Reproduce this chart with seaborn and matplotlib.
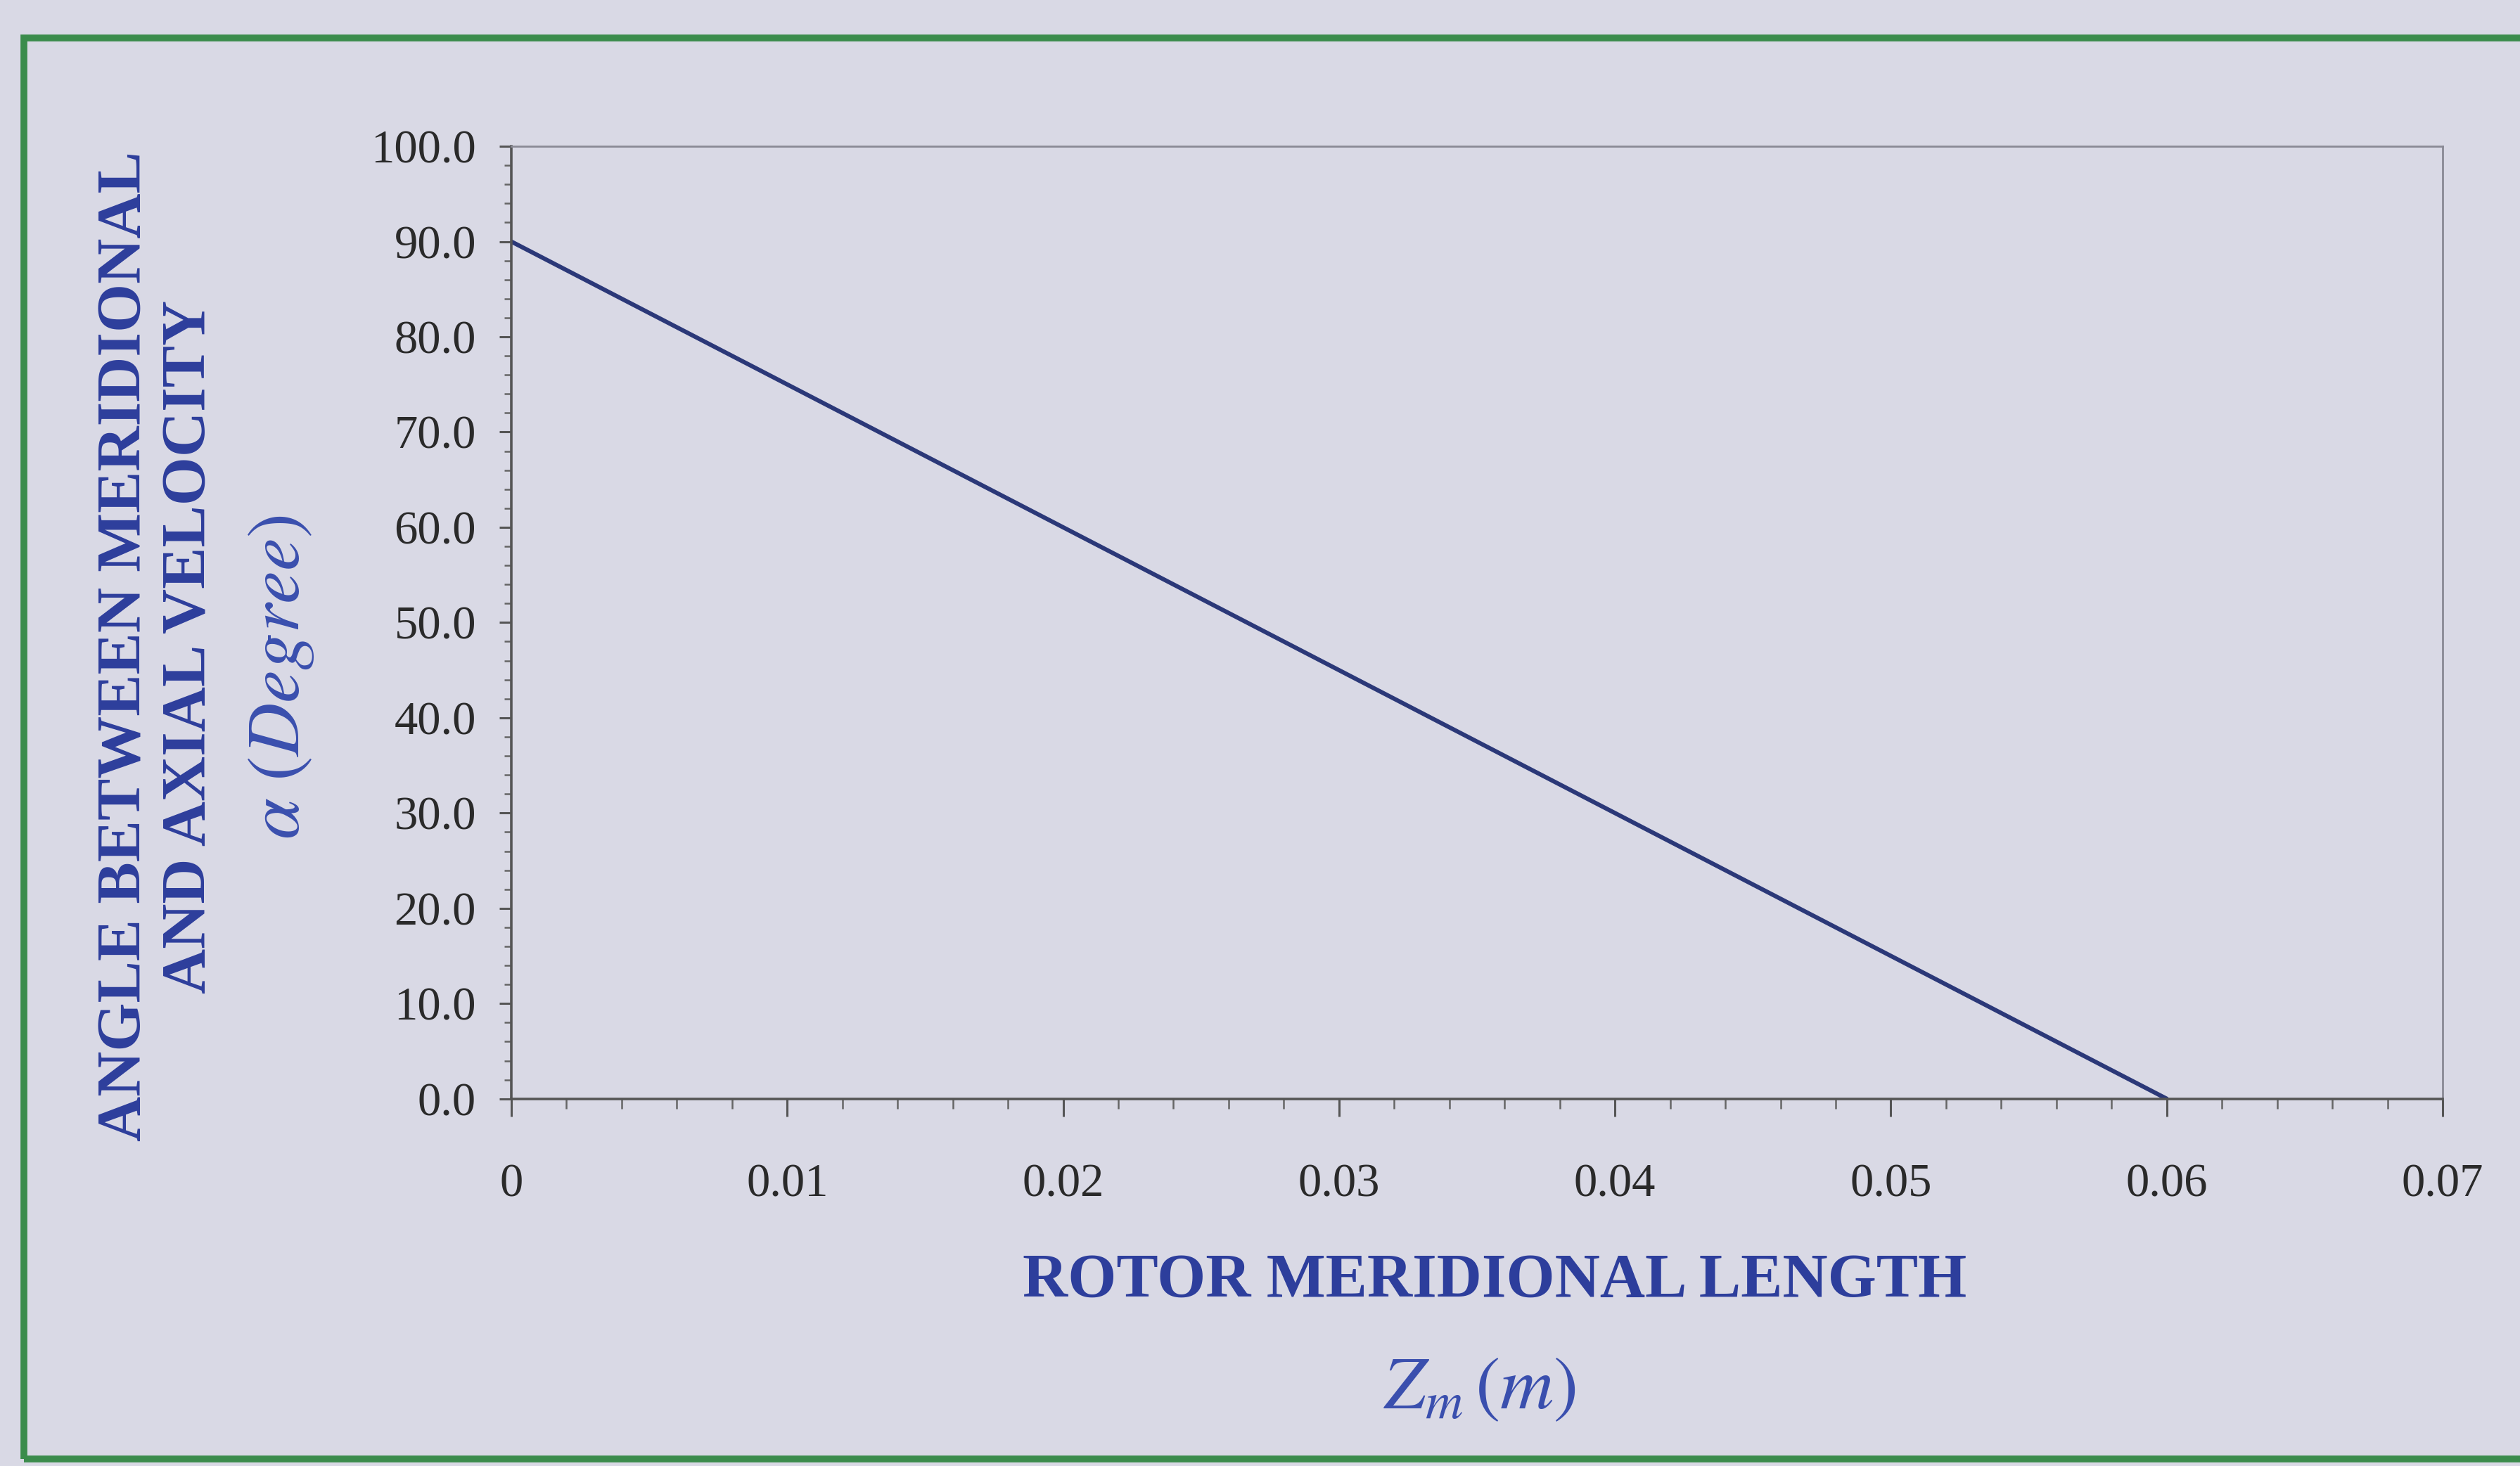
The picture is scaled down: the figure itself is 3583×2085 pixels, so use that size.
import numpy as np
import pandas as pd
import matplotlib
matplotlib.use("Agg")
import matplotlib.pyplot as plt
import seaborn as sns
from matplotlib.ticker import MultipleLocator, FixedLocator
from matplotlib.patches import Rectangle

# data
zm = [0.0, 0.01, 0.02, 0.03, 0.04, 0.05, 0.06]
alpha = [90.0, 75.0, 60.0, 45.0, 30.0, 15.0, 0.0]
y_ticks = [0, 10, 20, 30, 40, 50, 60, 70, 80, 90, 100]
x_ticks = [0, 0.01, 0.02, 0.03, 0.04, 0.05, 0.06, 0.07]
x_tick_labels = ["0", "0.01", "0.02", "0.03", "0.04", "0.05", "0.06", "0.07"]

df = pd.DataFrame({"Zm": zm, "alpha": alpha})

bg = "#d9d9e5"
blue = "#2d3e9c"
sns.set_style("white", {"axes.facecolor": bg, "figure.facecolor": bg})
plt.rcParams["font.family"] = ["Liberation Serif", "DejaVu Serif"]
plt.rcParams["mathtext.fontset"] = "stix"

fig = plt.figure(figsize=(17.915, 10.425), dpi=200)
fig.patch.set_facecolor(bg)
ax = fig.add_axes([0.2029, 0.2505, 0.7664, 0.6497])
ax.set_facecolor(bg)

sns.lineplot(data=df, x="Zm", y="alpha", ax=ax, color="#2b3878", linewidth=2.2)

ax.set_xlim(0, 0.07)
ax.set_ylim(0, 100)
ax.yaxis.set_major_locator(FixedLocator(y_ticks))
ax.yaxis.set_minor_locator(MultipleLocator(2))
ax.set_yticklabels([f"{v:.1f}" for v in y_ticks])
ax.xaxis.set_major_locator(FixedLocator(x_ticks))
ax.xaxis.set_minor_locator(MultipleLocator(0.002))
ax.set_xticklabels(x_tick_labels)

ax.tick_params(bottom=True, left=True, top=False, right=False, which="both")
ax.tick_params(axis="y", which="major", direction="out", length=6, width=1.1,
               color="#555555", labelsize=24, labelcolor="#2a2a2a", pad=12)
ax.tick_params(axis="y", which="minor", direction="out", length=3.5, width=0.9, color="#666666")
ax.tick_params(axis="x", which="major", direction="out", length=9, width=1.1,
               color="#555555", labelsize=24, labelcolor="#2a2a2a", pad=24)
ax.tick_params(axis="x", which="minor", direction="out", length=5, width=0.9, color="#666666")

for side in ["left", "bottom"]:
    ax.spines[side].set_color("#555555")
    ax.spines[side].set_linewidth(1.3)
for side in ["top", "right"]:
    ax.spines[side].set_color("#8a8a95")
    ax.spines[side].set_linewidth(1.0)

ax.set_xlabel("")
ax.set_ylabel("")

# axis titles
fig.text(0.0497, 0.559, "ANGLE BETWEEN MERIDIONAL", rotation=90, ha="center", va="center",
         fontsize=32, fontweight="bold", color=blue)
fig.text(0.0753, 0.559, "AND AXIAL VELOCITY", rotation=90, ha="center", va="center",
         fontsize=32, fontweight="bold", color=blue)
fig.text(0.1116, 0.538, r"$\alpha\ (Degree)$", rotation=90, ha="center", va="center",
         fontsize=38, color="#3a4fae")
fig.text(0.593, 0.126, "ROTOR MERIDIONAL LENGTH", ha="center", va="center",
         fontsize=32, fontweight="bold", color=blue)
fig.text(0.587, 0.0515, r"$Z_m\,(m)$", ha="center", va="center",
         fontsize=38, color="#3a4fae")

# green frame
fig.patches.append(Rectangle((0.0095, 0.005), 1.2, 0.969, transform=fig.transFigure,
                             fill=False, edgecolor="#3b8c4c", linewidth=3.5))

fig.savefig("out.png", dpi=200, facecolor=bg)
